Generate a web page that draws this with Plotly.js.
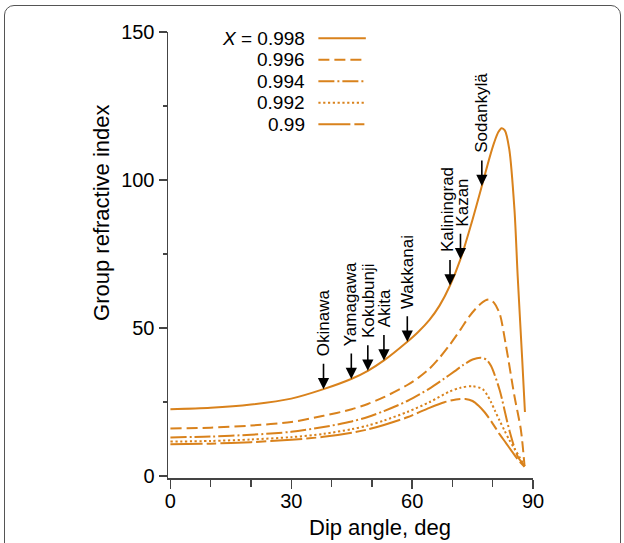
<!DOCTYPE html>
<html>
<head>
<meta charset="utf-8">
<script src="https://cdn.plot.ly/plotly-3.0.1.min.js"></script>
<style>
  html, body { margin: 0; padding: 0; background: #fff; overflow: hidden; }
  #frame {
    position: absolute; left: 4px; top: 5px; width: 617px; height: 700px;
    border: 1.3px solid #555; border-radius: 10px; box-sizing: border-box;
  }
  #chart { position: absolute; left: 0; top: 0; width: 624px; height: 543px; }
</style>
</head>
<body>
<div id="frame"></div>
<div id="chart"></div>
<script>
// Group refractive index versus dip angle for several X values
const dip998 = [0, 10, 20, 30, 38, 45, 49, 53, 58.8, 61.5, 64.3, 66.8, 69.4, 72, 74.7, 77.5, 79.2, 80.4, 81.4, 82.2, 83.0, 84.1, 85.4, 86.2, 87.3, 88.0];
const n998   = [22.6, 23.1, 24.2, 26.2, 29.4, 32.9, 35.6, 39.1, 45.4, 48.7, 52.8, 57.6, 64.4, 73.3, 85.3, 99.0, 107.5, 112.8, 116.2, 117.5, 116.8, 110.5, 90.0, 67.5, 40.0, 21.7];

const dip996 = [0, 10, 20, 30, 38, 45, 49, 53, 58.8, 61.5, 64.3, 66.8, 69.3, 72, 74.2, 76.5, 78.2, 79.2, 80.3, 81.7, 83.3, 85.4, 87.0, 87.9];
const n996   = [16.1, 16.4, 17.1, 18.3, 20.4, 22.6, 24.4, 26.7, 30.8, 33.2, 36.3, 40.0, 44.3, 49.5, 54.0, 57.6, 59.4, 59.7, 58.6, 55.0, 44.0, 27.0, 15.6, 3.4];

const dip994 = [0, 10, 20, 30, 38, 45, 49, 53, 58.8, 64.3, 68, 70.5, 72.6, 75, 77.1, 78.5, 79.6, 81.7, 84.1, 86.2, 87.9];
const n994   = [13.1, 13.4, 14.0, 15.0, 16.6, 18.5, 20.0, 22.0, 25.4, 29.6, 33.0, 35.4, 37.5, 39.4, 40.0, 39.3, 37.2, 29.2, 15.7, 6.7, 3.5];

const dip992 = [0, 10, 20, 30, 38, 45, 49, 53, 58.8, 64.3, 69.3, 72, 75, 77.5, 78.6, 79.6, 80.6, 81.7, 82.9, 84.1, 85.4, 86.6, 87.9];
const n992   = [11.7, 11.9, 12.4, 13.2, 14.3, 15.9, 17.1, 18.8, 21.7, 25.0, 28.6, 29.9, 30.4, 29.4, 27.5, 25.0, 22.0, 18.8, 15.5, 12.3, 9.3, 6.6, 3.4];

const dip990 = [0, 10, 20, 30, 38, 45, 49, 53, 58.8, 64.3, 68, 70.9, 73.2, 75, 76.5, 78, 79.6, 81.7, 83.3, 84.8, 86.2, 87.9];
const n990   = [10.8, 11.0, 11.5, 12.3, 13.3, 14.7, 15.8, 17.3, 19.9, 23.1, 25.0, 25.9, 26.1, 25.4, 23.8, 21.6, 18.6, 14.2, 11.2, 8.3, 5.7, 3.2];

const seriesLabels = ['<i>X</i> = 0.998', '0.996', '0.994', '0.992', '0.99'];
const seriesDash = ['solid', '11px,5px', '16px,3px,2px,3px', '2.2px,2.6px', '32px,4px,10px,4px'];

// Ionosonde stations marked on the X = 0.998 curve
const stationNames = ['Okinawa', 'Yamagawa', 'Kokubunji', 'Akita', 'Wakkanai', 'Kaliningrad', 'Kazan', 'Sodankylä'];
const stationDips  = [38.0, 44.9, 49.0, 53.0, 58.8, 69.4, 72.0, 77.3];
// small sideways nudges keep the two close names apart
const stationNudge = [0, 0, 0, 0, 0, -3, 2, 0];

const ORANGE = '#d9821c';
const AXIS = '#444';
const FONT = 'Liberation Sans, Arial, Helvetica, sans-serif';

const xs = [dip998, dip996, dip994, dip992, dip990];
const ys = [n998, n996, n994, n992, n990];

const traces = xs.map((x, i) => ({
  x: x, y: ys[i], type: 'scatter', mode: 'lines', name: seriesLabels[i],
  line: { color: ORANGE, width: 2, dash: seriesDash[i], shape: 'spline', smoothing: 0.8 },
  hoverinfo: 'skip'
}));

// linear lookup on the top curve, so every arrow ends on it
function onTopCurve(d) {
  for (let i = 1; i < dip998.length; i++) {
    if (d <= dip998[i]) {
      const t = (d - dip998[i - 1]) / (dip998[i] - dip998[i - 1]);
      return n998[i - 1] + t * (n998[i] - n998[i - 1]);
    }
  }
  return n998[n998.length - 1];
}

const annotations = [];
stationNames.forEach((name, i) => {
  const yTip = onTopCurve(stationDips[i]);
  // arrow
  annotations.push({
    x: stationDips[i], y: yTip, xref: 'x', yref: 'y', text: '', showarrow: true,
    ax: 0, ay: -27, arrowhead: 2, arrowsize: 1.4, arrowwidth: 1.6, arrowcolor: '#000'
  });
  // station name above the arrow
  annotations.push({
    x: stationDips[i], y: yTip, xref: 'x', yref: 'y', text: name, textangle: -90,
    showarrow: false, xanchor: 'center', yanchor: 'bottom', yshift: 31, xshift: stationNudge[i],
    borderpad: 1, font: { family: FONT, size: 17, color: '#000' }
  });
});

// key: label on the left, line sample on the right
const keyTop = 0.986, keyStep = 0.0482;
const shapes = [];
seriesLabels.forEach((lab, i) => {
  const yy = keyTop - i * keyStep;
  annotations.push({
    x: 0.382, y: yy, xref: 'paper', yref: 'paper', text: lab, showarrow: false,
    xanchor: 'right', yanchor: 'middle', font: { family: FONT, size: 19, color: '#000' }
  });
  shapes.push({
    type: 'line', xref: 'paper', yref: 'paper', x0: 0.412, x1: 0.542, y0: yy, y1: yy,
    line: { color: ORANGE, width: 2, dash: seriesDash[i] }
  });
});

// axis titles
annotations.push({
  x: 0.581, y: -0.11, xref: 'paper', yref: 'paper', text: 'Dip angle, deg', showarrow: false,
  xanchor: 'center', yanchor: 'middle', font: { family: FONT, size: 22, color: '#000' }
});
annotations.push({
  x: -0.184, y: 0.594, xref: 'paper', yref: 'paper', text: 'Group refractive index', showarrow: false,
  textangle: -90, xanchor: 'center', yanchor: 'middle', font: { family: FONT, size: 22, color: '#000' }
});

const layout = {
  width: 624, height: 543,
  margin: { l: 168, r: 91, t: 32, b: 65 },
  paper_bgcolor: 'rgba(0,0,0,0)', plot_bgcolor: 'rgba(0,0,0,0)',
  showlegend: false,
  font: { family: FONT, color: '#000' },
  xaxis: {
    range: [-0.6, 90], tickvals: [0, 30, 60, 90], ticks: 'outside', ticklen: 9, tickwidth: 1.5,
    tickcolor: AXIS, showline: true, linecolor: AXIS, linewidth: 1.5, showgrid: false, zeroline: false,
    tickfont: { family: FONT, size: 20, color: '#000' }, ticklabelstandoff: -5,
    minor: { tickvals: [10, 20, 40, 50, 70, 80], ticks: 'outside', ticklen: 7, tickwidth: 1.5, tickcolor: AXIS, showgrid: false }
  },
  yaxis: {
    range: [-0.6, 150], tickvals: [0, 50, 100, 150], ticks: 'outside', ticklen: 8, tickwidth: 1.5,
    tickcolor: AXIS, showline: true, linecolor: AXIS, linewidth: 1.5, showgrid: false, zeroline: false,
    tickfont: { family: FONT, size: 20, color: '#000' },
    minor: { tickvals: [25, 75, 125], ticks: 'outside', ticklen: 4, tickwidth: 1.5, tickcolor: AXIS, showgrid: false }
  },
  annotations: annotations,
  shapes: shapes
};

Plotly.newPlot('chart', traces, layout, { displayModeBar: false, staticPlot: true });
</script>
</body>
</html>
